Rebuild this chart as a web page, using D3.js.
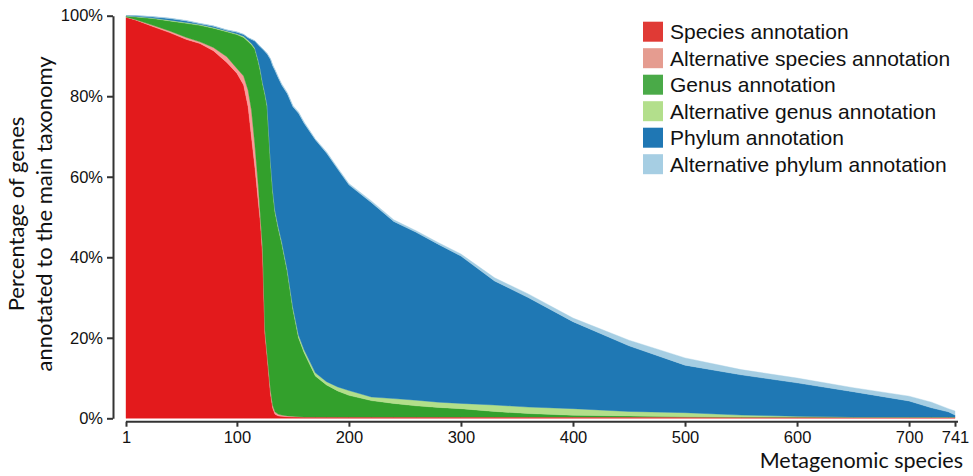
<!DOCTYPE html>
<html>
<head>
<meta charset="utf-8">
<script src="https://cdnjs.cloudflare.com/ajax/libs/d3/7.8.5/d3.min.js"></script>
<style>
  body { margin: 0; background: #fff; }
  .axis path, .axis line { stroke: #333; stroke-width: 2; }
  .axis text { font-family: "Liberation Sans", Arial, sans-serif; font-size: 16.5px; fill: #111; }
  .title { font-family: Lato, "Open Sans", sans-serif; fill: #111; }
  .legend text { font-family: "Liberation Sans", Arial, sans-serif; font-size: 21px; fill: #111; }
</style>
</head>
<body>
<div id="chart"></div>
<script>
// metagenomic species index (sampled along the sorted curve)
var speciesIdx = [1, 10, 25, 40, 55, 67, 79, 91, 100, 106, 110, 113, 116, 119, 121, 123, 125, 127,
  130, 132, 134, 137, 140, 145, 150, 155, 160, 170, 180, 190, 200, 220, 240, 260, 280, 300,
  330, 360, 400, 450, 500, 550, 600, 650, 700, 720, 735, 741];

// percentage of genes per annotation level
var speciesAnn = [99.6, 98.9, 97.3, 95.8, 94.1, 93.1, 91.3, 88.4, 85.7, 82.8, 77.4, 69.9, 62.5, 54.0, 48.5, 40.0, 21.0, 15.3,
  6.0, 2.5, 1.0, 0.6, 0.5, 0.4, 0.3, 0.3, 0.3, 0.3, 0.3, 0.3, 0.3, 0.3, 0.3, 0.3, 0.3, 0.3,
  0.3, 0.3, 0.3, 0.3, 0.3, 0.3, 0.3, 0.3, 0.3, 0.3, 0.3, 0.3];
var altSpeciesAnn = [0.1, 0.1, 0.3, 0.4, 0.5, 0.4, 0.8, 1.4, 1.2, 2.2, 4.1, 6.6, 5.5, 4.0, 1.5, 2.0, 1.0, 0.7,
  1.0, 0.7, 0.6, 0.4, 0.3, 0.2, 0.2, 0.1, 0, 0, 0, 0, 0, 0, 0, 0, 0, 0,
  0, 0, 0, 0, 0, 0, 0, 0, 0, 0, 0, 0];
var genusAnn = [0.2, 0.7, 1.7, 2.5, 3.5, 4.1, 4.8, 6.2, 8.4, 9.6, 12.1, 16.3, 23.7, 30.6, 36.1, 41.0, 58.4, 61.4,
  56.5, 53.0, 49.6, 46.0, 42.6, 35.8, 26.5, 19.6, 16.0, 10.2, 8.0, 6.5, 5.4, 4.1, 3.4, 2.8, 2.4, 2.1,
  1.4, 0.9, 0.45, 0.3, 0.1, 0, 0, 0, 0, 0, 0, 0];
var altGenusAnn = [0.1, 0.1, 0.1, 0.2, 0.2, 0.2, 0.2, 0.2, 0.2, 0.3, 0.3, 0.3, 0.3, 0.4, 0.4, 0.3, 0.4, 0.4,
  0.4, 0.5, 0.5, 0.5, 0.5, 0.5, 0.6, 0.7, 0.7, 0.8, 0.8, 1.0, 1.2, 0.9, 1.2, 1.4, 1.3, 1.3,
  1.6, 1.6, 1.65, 1.1, 1.0, 0.5, 0.2, 0, 0, 0, 0, 0];
var phylumAnn = [0, 0.2, 0.3, 0.4, 0.4, 0.2, 0.3, 0.2, 0.4, 0.4, 0.6, 1.0, 1.7, 3.8, 5.7, 8.4, 10.3, 12.7,
  25.2, 30.8, 34.7, 37.0, 38.9, 43.7, 49.8, 55.1, 56.3, 57.9, 56.8, 54.1, 51.1, 48.3, 44.0, 41.7, 39.2, 36.6,
  30.8, 27.2, 21.6, 16.3, 11.8, 10.0, 8.3, 6.3, 4.0, 2.3, 1.3, 0.5];
var altPhylumAnn = [0, 0, 0.1, 0.1, 0.1, 0.1, 0.1, 0.1, 0.1, 0.1, 0.1, 0.1, 0.1, 0.1, 0.1, 0.1, 0.1, 0.2,
  0.2, 0.3, 0.3, 0.3, 0.3, 0.3, 0.3, 0.3, 0.3, 0.2, 0.3, 0.3, 0.3, 0.4, 0.4, 0.4, 0.4, 0.5,
  0.8, 0.9, 0.9, 1.4, 1.8, 1.3, 1.2, 1.0, 1.2, 1.4, 0.8, 1.0];

var seriesNames = ["Species annotation", "Alternative species annotation", "Genus annotation",
  "Alternative genus annotation", "Phylum annotation", "Alternative phylum annotation"];
var xTicks = [1, 100, 200, 300, 400, 500, 600, 700, 741];
var yTicks = [0, 20, 40, 60, 80, 100];

var areaColors = ["#e31a1c", "#fb9a99", "#33a02c", "#b2df8a", "#1f78b4", "#a6cee3"];
var swatchColors = ["#e03a35", "#e59c90", "#4aaa48", "#b3df8c", "#1f77b4", "#a6cee3"];

var width = 973, height = 476;

var svg = d3.select("#chart").append("svg")
    .attr("width", width)
    .attr("height", height);

var seriesValues = [speciesAnn, altSpeciesAnn, genusAnn, altGenusAnn, phylumAnn, altPhylumAnn];
var rows = speciesIdx.map(function(s, i) {
  var r = {idx: s};
  seriesNames.forEach(function(n, k) { r[n] = seriesValues[k][i]; });
  return r;
});

var xScale = d3.scaleLinear()
  .domain([1, 741])
  .range([126, 955]);

var yScale = d3.scaleLinear()
  .domain([0, 100])
  .range([418.3, 15.7]);

var stacked = d3.stack().keys(seriesNames)(rows);

var area = d3.area()
  .x(function(d) { return xScale(d.data.idx); })
  .y0(function(d) { return yScale(d[0]); })
  .y1(function(d) { return yScale(d[1]); })
  .curve(d3.curveLinear);

svg.append("g").selectAll("path")
  .data(stacked)
  .enter().append("path")
    .attr("d", area)
    .attr("fill", function(d, i) { return areaColors[i]; })
    .attr("stroke", function(d, i) { return areaColors[i]; })
    .attr("stroke-width", 0.4);

// axes
svg.append("g")
  .attr("class", "axis")
  .attr("transform", "translate(113,0)")
  .call(d3.axisLeft(yScale)
    .tickValues(yTicks)
    .tickSize(6)
    .tickSizeOuter(0)
    .tickPadding(4)
    .tickFormat(function(d) { return d + "%"; }));

var xAxis = svg.append("g")
  .attr("class", "axis")
  .attr("transform", "translate(0,421.7)")
  .call(d3.axisBottom(xScale)
    .tickValues(xTicks)
    .tickSize(5)
    .tickSizeOuter(0)
    .tickPadding(5)
    .tickFormat(d3.format("d")));
xAxis.select(".domain").attr("d", "M126,0H958");
svg.selectAll(".axis text").style("font-size", "16.5px");

// titles
svg.append("text")
  .attr("class", "title")
  .attr("x", 963)
  .attr("y", 468)
  .attr("text-anchor", "end")
  .style("font-size", "21.5px")
  .text("Metagenomic species");

var yTitle = svg.append("text")
  .attr("class", "title")
  .attr("text-anchor", "middle")
  .style("font-size", "22px")
  .attr("transform", "translate(24,214) rotate(-90)");
yTitle.append("tspan").attr("x", 0).attr("y", 0).text("Percentage of genes");
yTitle.append("tspan").attr("x", 0).attr("y", 28).text("annotated to the main taxonomy");

// legend
var legend = svg.append("g")
  .attr("class", "legend")
  .attr("transform", "translate(643,21.7)");

var rowsLeg = legend.selectAll("g")
  .data(seriesNames)
  .enter().append("g")
    .attr("transform", function(d, i) { return "translate(0," + (i * 26.5) + ")"; });

rowsLeg.append("rect")
  .attr("width", 20)
  .attr("height", 20)
  .attr("fill", function(d, i) { return swatchColors[i]; });

rowsLeg.append("text")
  .attr("x", 27)
  .attr("y", 17.5)
  .text(function(d) { return d; });
</script>
</body>
</html>
